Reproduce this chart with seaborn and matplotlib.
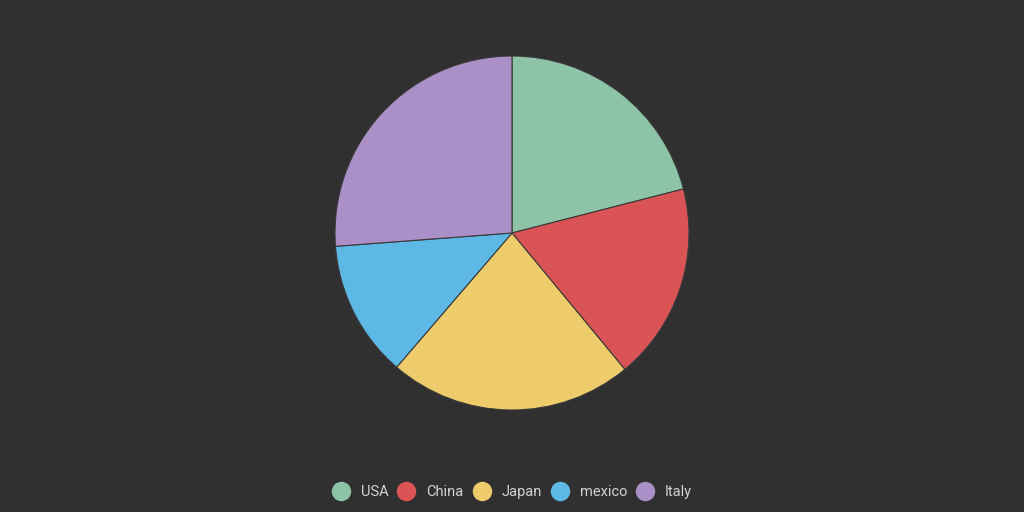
import matplotlib
matplotlib.use("Agg")
import matplotlib.pyplot as plt
from matplotlib.lines import Line2D
import seaborn as sns

countries = ["USA", "China", "Japan", "mexico", "Italy"]
values = [21.0, 18.0, 22.3, 12.5, 26.2]
colors = ["#8dc3a7", "#db5455", "#eecb6b", "#5db8e6", "#ab90c8"]

bg = "#303030"
sns.set_theme(style="dark")
plt.rcParams["font.family"] = ["Roboto", "DejaVu Sans"]

fig = plt.figure(figsize=(10.24, 5.12), dpi=100, facecolor=bg)
# pie centred at (512, 233) px with radius ~177 px
ax = fig.add_axes([(512 - 177) / 1024, (512 - 410) / 512, 354 / 1024, 354 / 512])
ax.set_facecolor(bg)
ax.pie(values, colors=colors, startangle=90, counterclock=False, radius=1,
       wedgeprops=dict(edgecolor="#3a3a3a", linewidth=0.8))
ax.set_xlim(-1.0, 1.0)
ax.set_ylim(-1.0, 1.0)
ax.axis("off")

handles = [Line2D([0], [0], marker="o", linestyle="", markersize=13,
                  markerfacecolor=c, markeredgecolor=c) for c in colors]
leg = fig.legend(handles, countries, loc="center", bbox_to_anchor=(0.5, 1 - 492 / 512),
                 ncol=5, frameon=False, fontsize=10.5, labelcolor="#d2d2d2",
                 handletextpad=0.75, columnspacing=0.65, handlelength=1.2)

fig.savefig("out.png", dpi=100, facecolor=bg)
